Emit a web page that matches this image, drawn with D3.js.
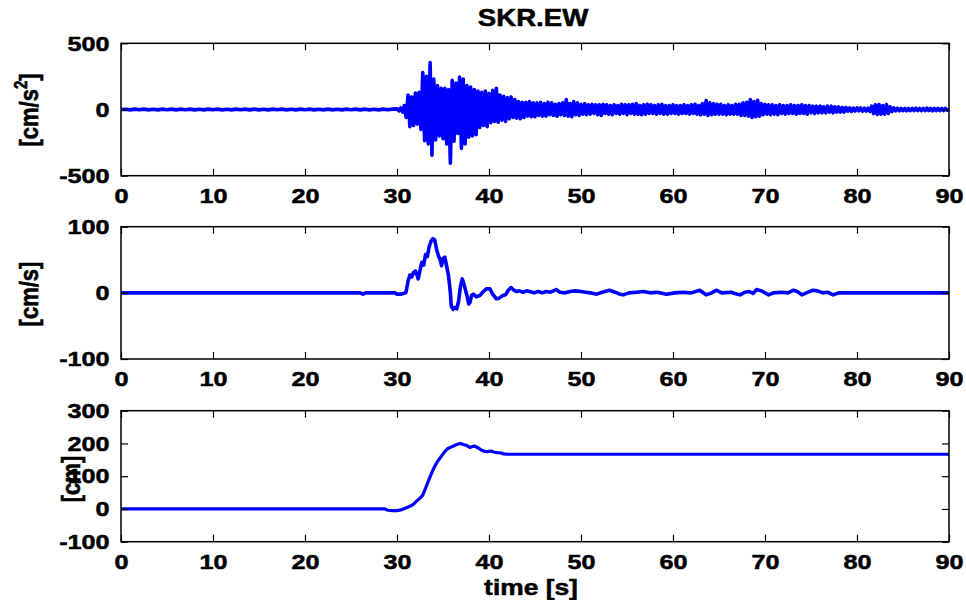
<!DOCTYPE html>
<html>
<head>
<meta charset="utf-8">
<script src="https://cdn.jsdelivr.net/npm/d3@7"></script>
<style>
  body { margin: 0; background: #fff; }
  text { font-family: "Liberation Sans", Arial, sans-serif; font-weight: bold; fill: #000; stroke: #000; stroke-width: 0.5px; }
</style>
</head>
<body>
<div id="chart"></div>
<script>
// x axis, seconds
const timeTicks = [0, 10, 20, 30, 40, 50, 60, 70, 80, 90];

// acceleration [cm/s^2]: quiet part every 0.5 s from 0 s, strong part every 0.2 s from 30 s
const accQuietStep = 0.5;
const accQuiet = [
  0, 2, -3, 3, -2, 3, -3, 2, -3, 3, -2, 3, -3, 3, -2, 3, -3, 2, -3, 3,
  -2, 3, -3, 2, -3, 3, -2, 3, -3, 3, -3, 2, -3, 3, -2, 3, -3, 2, -3, 3,
  -2, 3, -3, 2, -3, 3, -3, 2, -3, 3, -2, 3, -3, 3, -3, 2, -3, 3, -2, 3
];
const accStrongStart = 30;
const accStrongStep = 0.2;
const accStrong = [
  5, -10, 12, -20, 30,  -60, 110, -130, 95, -120,  125, -110, 130, -150, 280,
  -235, 250, -260, 355, -345,  230, -230, 180, -200, 160,  -220, 160, -260, 150, -405,
  220, -240, 200, -180, 245,  -295, 230, -260, 180, -210,  170, -200, 150, -190, 140,
  -135, 130, -120, 140, -130,  120, -100, 145, -90, 160,  -95, 110, -80, 100, -90,
  90, -70, 95, -60, 75,  -65, 60, -70, 55, -60,  55, -50, 60, -55, 50,
  -55, 50, -45, 55, -50,  45, -50, 55, -40, 50,  -45, 40, -50, 45, -40,
  50, -45, 75, -50, 45,  -55, 60, -40, 50, -45,  40, -35, 45, -40, 35,
  -35, 40, -30, 35, -40,  35, -45, 40, -30, 35,  -35, 30, -40, 35, -30,
  30, -35, 40, -30, 35,  -40, 35, -30, 40, -35,  45, -35, 30, -40, 35,
  -35, 40, -30, 35, -30,  30, -35, 35, -30, 40,  -35, 30, -35, 30, -30,
  35, -30, 30, -35, 30,  -30, 35, -30, 30, -35,  35, -30, 40, -35, 30,
  -40, 45, -35, 67, -45,  50, -40, 45, -35, 40,  -35, 40, -35, 30, -40,
  35, -35, 30, -35, 40,  -35, 40, -45, 50, -45,  55, -50, 75, -60, 60,
  -55, 70, -50, 45, -40,  40, -35, 35, -40, 35,  -35, 30, -40, 35, -30,
  30, -35, 30, -30, 35,  -30, 30, -35, 30, -30,  35, -30, 30, -35, 30,
  -25, 25, -30, 25, -25,  25, -25, 20, -25, 25,  -20, 25, -25, 20, -20,
  20, -20, 15, -20, 15,  -12, 12, -15, 10, -12,  12, -10, 12, -12, 10,
  -12, 10, -15, 25, -30,  35, -37, 37, -35, 30,  -35, 37, -30, 20, -15,
  12, -10, 10, -10, 8,  -8, 8, -10, 8, -8,  8, -8, 10, -8, 8,
  -8, 8, -8, 10, -8,  8, -10, 8, -8, 8,  -8, 8, -8, 8, -6,
  0
];

// velocity [cm/s]
const velTime = [
  0, 26.0, 26.3, 26.6, 29.8, 30.0, 30.5, 30.9, 31.0, 31.2, 31.4, 31.6, 31.8, 32.0, 32.2, 32.3,
  32.5, 32.7, 32.9, 33.1, 33.3, 33.5, 33.7, 33.9, 34.1, 34.3, 34.5, 34.7, 34.85, 35.0, 35.2,
  35.4, 35.6, 35.8, 35.9, 36.1, 36.3, 36.5, 36.7, 36.9, 37.1, 37.3, 37.6, 37.8, 37.95, 38.1,
  38.3, 38.6, 39.0, 39.4, 39.7, 40.1, 40.4, 40.8, 41.1, 41.5, 41.8, 42.1, 42.4, 42.7, 43.0,
  43.3, 43.7, 44.1, 44.4, 44.9, 45.3, 45.8, 46.2, 46.7, 47.3, 47.7, 48.3, 48.8, 49.4, 50.0,
  50.5, 51.0, 51.7, 52.3, 53.1, 53.7, 54.2, 54.6, 55.2, 56.0, 56.8, 57.5, 58.3, 59.3, 60.2,
  61.0, 62.0, 62.9, 63.6, 64.2, 64.7, 65.3, 66.3, 67.0, 67.3, 67.8, 68.3, 68.7, 69.1, 69.6,
  70.0, 70.4, 70.9, 71.8, 72.5, 73.1, 73.5, 74.0, 74.5, 75.2, 75.7, 76.3, 76.8, 77.4, 78.0, 90
];
const velValue = [
  0, 0, -2, 0, 0, -2, -2, 0, 2, 18, 27, 24, 31, 33, 26, 21,
  34, 46, 42, 58, 55, 70, 78, 82, 80, 66, 56, 50, 41, 52, 54,
  40, 26, 0, -20, -25, -22, -24, -12, 10, 21, 12, -4, -17, -14, -4,
  -2, -6, -4, 2, 6, 6, -2, -9, -8, -4, -3, 4, 8, 4, 2,
  3, 1, 3, 2, 0, 2, 0, 2, 1, 5, 1, 0, 2, 3, 2,
  1, 0, -2, 1, 4, 1, -2, -3, 0, 1, 2, 0, 1, -2, 0,
  1, 0, 4, -3, 0, 4, 0, 1, -2, -3, 1, 2, -1, 5, 3,
  0, -3, 0, 1, 0, 4, 2, -3, 0, 4, 3, 0, 1, -3, 0, 0
];

// displacement [cm]
const dispTime = [
  0, 28.7, 29.0, 29.5, 30.0, 30.4, 30.9, 31.4, 31.8, 32.1, 32.5, 32.8, 33.2, 33.5, 33.8,
  34.1, 34.4, 34.8, 35.1, 35.5, 35.8, 36.2, 36.6, 36.9, 37.2, 37.5, 37.9, 38.1, 38.4, 38.8,
  39.1, 39.5, 39.8, 40.2, 40.5, 40.9, 41.3, 41.6, 42.0, 90
];
const dispValue = [
  0, 0, -4, -5, -5, -3, 2, 8, 15, 23, 33, 42, 70, 92, 112,
  130, 145, 160, 172, 184, 188, 193, 198, 200, 197, 195, 188, 190, 192, 187,
  181, 176, 175, 177, 174, 172, 171, 168, 167, 167
];

const accTicks = [-500, 0, 500];
const velTicks = [-100, 0, 100];
const dispTicks = [-100, 0, 100, 200, 300];

const width = 966, height = 600;
const left = 121, right = 949;
const sx = 1.2;   // the picture is stretched sideways

const accPoints = accQuiet.map((v, i) => [i * accQuietStep, v])
  .concat(accStrong.map((v, i) => [accStrongStart + i * accStrongStep, v]));
const velPoints = velTime.map((t, i) => [t, velValue[i]]);
const dispPoints = dispTime.map((t, i) => [t, dispValue[i]]);

const panels = [
  {top: 43.3, bottom: 175.7, domain: [-500, 500], ticks: accTicks, points: accPoints, lw: 3.6,
   label: 'acc', labelX: 38, labelY: 110},
  {top: 226.7, bottom: 359, domain: [-100, 100], ticks: velTicks, points: velPoints, lw: 3.6,
   label: '[cm/s]', labelX: 38, labelY: 294},
  {top: 410.7, bottom: 541.7, domain: [-100, 300], ticks: dispTicks, points: dispPoints, lw: 3.2,
   label: '[cm]', labelX: 80, labelY: 479}
];

const svg = d3.select('#chart').append('svg')
  .attr('width', width)
  .attr('height', height);

const x = d3.scaleLinear().domain([0, 90]).range([left, right]);

panels.forEach(p => {
  const y = d3.scaleLinear().domain(p.domain).range([p.bottom, p.top]);
  const g = svg.append('g');

  g.append('path')
    .datum(p.points)
    .attr('fill', 'none')
    .attr('stroke', '#0000ff')
    .attr('stroke-width', p.lw)
    .attr('stroke-linejoin', 'round')
    .attr('d', d3.line().x(d => x(d[0])).y(d => y(d[1])));

  const tl = 7;
  const bottomAxis = g.append('g')
    .attr('transform', `translate(0,${p.bottom})`)
    .call(d3.axisBottom(x).tickValues(timeTicks).tickSize(-tl).tickSizeOuter(0)
      .tickPadding(12).tickFormat(d => String(d)));
  g.append('g')
    .attr('transform', `translate(0,${p.top})`)
    .call(d3.axisTop(x).tickValues(timeTicks).tickSize(-tl).tickSizeOuter(0).tickFormat(''));
  const leftAxis = g.append('g')
    .attr('transform', `translate(${left},0)`)
    .call(d3.axisLeft(y).tickValues(p.ticks).tickSize(-tl).tickSizeOuter(0)
      .tickPadding(9.5).tickFormat(d => String(d)));
  g.append('g')
    .attr('transform', `translate(${right},0)`)
    .call(d3.axisRight(y).tickValues(p.ticks).tickSize(-tl).tickSizeOuter(0).tickFormat(''));

  g.selectAll('.domain').remove();
  g.selectAll('.tick line').attr('stroke', '#000').attr('stroke-width', 1.2);
  [bottomAxis, leftAxis].forEach(a => a.selectAll('text')
    .attr('transform', `scale(${sx},1)`)
    .style('font-size', '21px')
    .style('font-family', '"Liberation Sans", Arial, sans-serif')
    .style('font-weight', 'bold')
    .attr('fill', '#000'));

  g.append('rect')
    .attr('x', left).attr('y', p.top)
    .attr('width', right - left).attr('height', p.bottom - p.top)
    .attr('fill', 'none').attr('stroke', '#000').attr('stroke-width', 1.5);

  const lab = svg.append('text')
    .attr('transform', `translate(${p.labelX},${p.labelY}) scale(${sx},1) rotate(-90)`)
    .attr('text-anchor', 'middle')
    .style('font-size', '22px');
  if (p.label === 'acc') {
    lab.append('tspan').text('[cm/s');
    lab.append('tspan').attr('dy', -9).style('font-size', '15px').text('2');
    lab.append('tspan').attr('dy', 9).text(']');
  } else {
    lab.text(p.label);
  }
});

svg.append('text')
  .attr('transform', `translate(533,26) scale(${sx},1)`)
  .attr('text-anchor', 'middle')
  .style('font-size', '23px')
  .text('SKR.EW');

svg.append('text')
  .attr('transform', `translate(531,595) scale(${sx},1)`)
  .attr('text-anchor', 'middle')
  .style('font-size', '22px')
  .text('time [s]');
</script>
</body>
</html>
